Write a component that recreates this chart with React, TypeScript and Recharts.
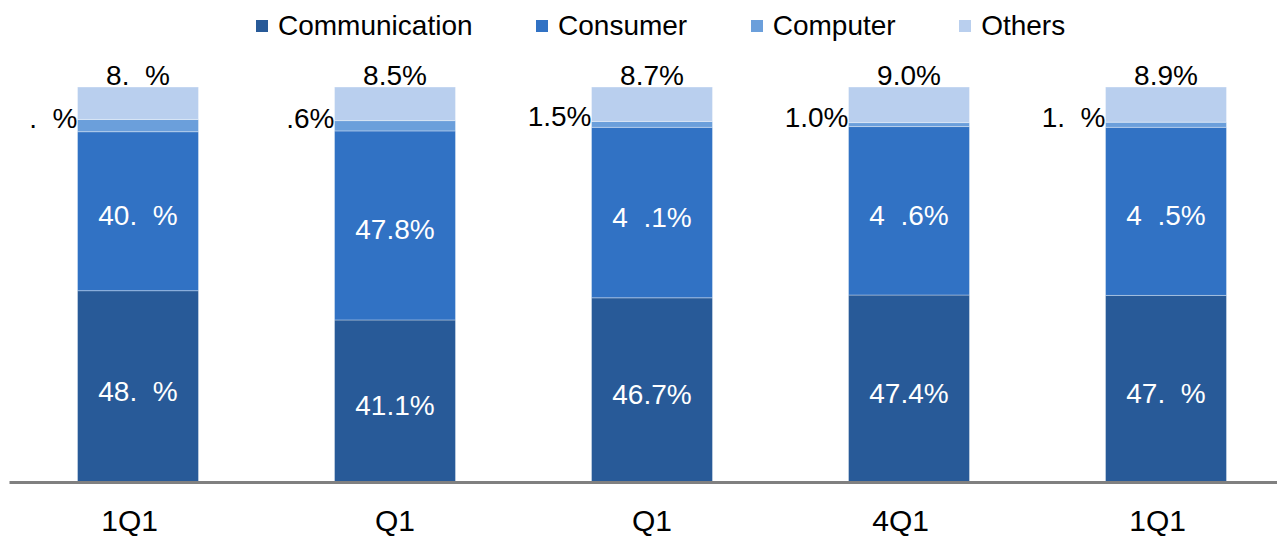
import React from "react";
import { BarChart, Bar, XAxis, YAxis, LabelList, Legend } from "recharts";

const FONT = '"Liberation Sans", Arial, Helvetica, sans-serif';
const FS = "\u2007"; // figure space: stands in for the digits that are blank in the reference

const categories = [`1Q1${FS}`, `${FS}Q1${FS}`, `${FS}Q1${FS}`, `4Q1${FS}`, `1Q1${FS}`];

const communication = [48.5, 41.1, 46.7, 47.4, 47.3];
const consumer = [40.2, 47.8, 43.1, 42.6, 42.5];
const computer = [3.1, 2.6, 1.5, 1.0, 1.3];
const others = [8.2, 8.5, 8.7, 9.0, 8.9];

const communicationLabels = [`48.${FS}%`, "41.1%", "46.7%", "47.4%", `47.${FS}%`];
const consumerLabels = [`40.${FS}%`, "47.8%", `4${FS}.1%`, `4${FS}.6%`, `4${FS}.5%`];
const computerLabels = [`${FS}.${FS}%`, `${FS}.6%`, "1.5%", "1.0%", `1.${FS}%`];
const othersLabels = [`8.${FS}%`, "8.5%", "8.7%", "9.0%", "8.9%"];

const seriesNames = ["Communication", "Consumer", "Computer", "Others"];
const seriesColors = ["#285a98", "#3172c4", "#6b9fdb", "#b9cfee"];

const data = categories.map((name, i) => ({
  name,
  communication: communication[i],
  consumer: consumer[i],
  computer: computer[i],
  others: others[i],
  communicationLabel: communicationLabels[i],
  consumerLabel: consumerLabels[i],
  computerLabel: computerLabels[i],
  othersLabel: othersLabels[i],
}));

const Tick = (props: any) => {
  const { x, y, payload } = props;
  return (
    <text x={x} y={y + 48} textAnchor="middle" fontSize={30} fontFamily={FONT} fill="#000">
      {payload.value}
    </text>
  );
};

const LegendContent = () => (
  <div
    style={{
      display: "flex",
      alignItems: "center",
      fontFamily: FONT,
      fontSize: 28,
      lineHeight: "32px",
      color: "#000",
      whiteSpace: "nowrap",
    }}
  >
    {seriesNames.map((n, i) => (
      <div key={n} style={{ display: "flex", alignItems: "center", marginRight: 63.5 }}>
        <span
          style={{
            display: "inline-block",
            width: 12,
            height: 12,
            background: seriesColors[i],
            marginRight: 10,
          }}
        />
        <span>{n}</span>
      </div>
    ))}
  </div>
);

const segStroke = { stroke: "#ffffff", strokeOpacity: 0.35, strokeWidth: 1 };

export default function App() {
  return (
    <div style={{ position: "absolute", left: 0, top: 0, width: 1277, height: 539, overflow: "hidden", background: "#fff" }}>
      <BarChart
        width={1277}
        height={539}
        data={data}
        margin={{ top: 87, right: -17.5, left: 9.5, bottom: 6.5 }}
      >
        <XAxis
          dataKey="name"
          height={50}
          tickLine={false}
          tickSize={0}
          tickMargin={0}
          axisLine={{ stroke: "#808080", strokeWidth: 3 }}
          tick={<Tick />}
          interval={0}
        />
        <YAxis hide domain={[0, 100]} type="number" />
        <Legend
          verticalAlign="middle"
          layout="horizontal"
          content={<LegendContent />}
          wrapperStyle={{ top: 10, left: 256, width: "auto" }}
        />
        <Bar dataKey="communication" name="Communication" stackId="s" fill={seriesColors[0]} barSize={121} isAnimationActive={false} {...segStroke}>
          <LabelList dataKey="communicationLabel" position="center" fill="#ffffff" fontSize={28} fontFamily={FONT} dy={4} />
        </Bar>
        <Bar dataKey="consumer" name="Consumer" stackId="s" fill={seriesColors[1]} barSize={121} isAnimationActive={false} {...segStroke}>
          <LabelList dataKey="consumerLabel" position="center" fill="#ffffff" fontSize={28} fontFamily={FONT} dy={4} />
        </Bar>
        <Bar dataKey="computer" name="Computer" stackId="s" fill={seriesColors[2]} barSize={121} isAnimationActive={false} {...segStroke}>
          <LabelList dataKey="computerLabel" position="left" offset={0} fill="#000000" fontSize={28} fontFamily={FONT} dy={-8} />
        </Bar>
        <Bar dataKey="others" name="Others" stackId="s" fill={seriesColors[3]} barSize={121} isAnimationActive={false} {...segStroke}>
          <LabelList dataKey="othersLabel" position="top" offset={2} fill="#000000" fontSize={28} fontFamily={FONT} />
        </Bar>
      </BarChart>
    </div>
  );
}
